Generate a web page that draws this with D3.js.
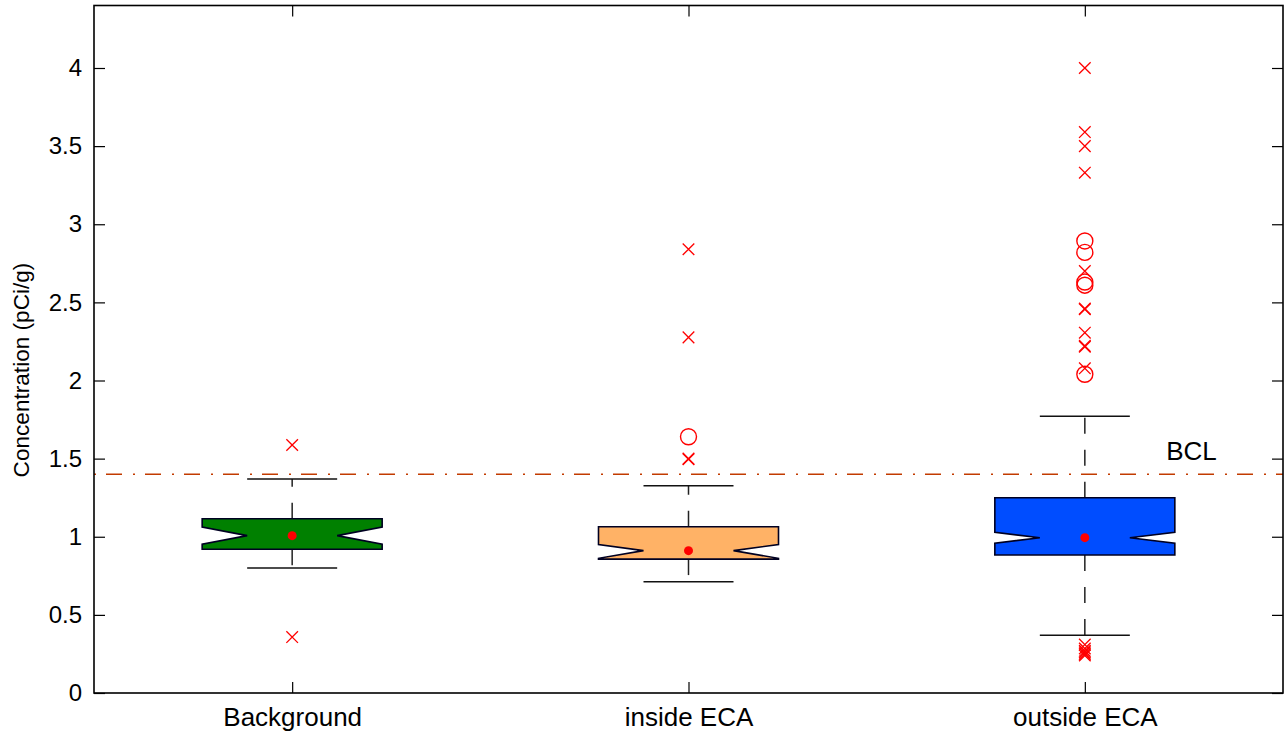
<!DOCTYPE html>
<html>
<head>
<meta charset="utf-8">
<script src="https://cdn.jsdelivr.net/npm/d3@7"></script>
<style>
  html, body { margin: 0; padding: 0; background: #fff; }
  svg { display: block; }
  text { font-family: "Liberation Sans", Arial, sans-serif; fill: #000; }
</style>
</head>
<body>
<svg id="chart" width="1286" height="736"></svg>
<script>
// ---------- data ----------
const categories = ["Background", "inside ECA", "outside ECA"];
const q1 = [0.92, 0.857, 0.883];
const q3 = [1.115, 1.064, 1.25];
const medians = [1.007, 0.911, 0.994];
const notchLo = [0.953, 0.862, 0.958];
const notchHi = [1.062, 0.95, 1.028];
const whiskerLo = [0.80, 0.712, 0.369];
const whiskerHi = [1.37, 1.327, 1.771];
const means = [1.007, 0.911, 0.994];
const outliersX = [
  [1.587, 0.358],
  [2.84, 2.276, 1.496, 1.50],
  [4.0, 3.59, 3.50, 3.33, 2.70, 2.456, 2.46, 2.306, 2.216, 2.222, 2.078,
   0.31, 0.285, 0.27, 0.26, 0.25, 0.24]
];
const outliersO = [
  [],
  [1.64],
  [2.893, 2.82, 2.63, 2.61, 2.04]
];
const bcl = 1.4;
const bclLabel = "BCL";
const yTicks = [0, 0.5, 1, 1.5, 2, 2.5, 3, 3.5, 4];
const yLabel = "Concentration (pCi/g)";
const fills = ["#008000", "#ffb266", "#004dff"];

// ---------- layout ----------
const svg = d3.select("#chart");
const pLeft = 94, pRight = 1283, pTop = 5.5, pBottom = 693;
const x = d3.scaleLinear().domain([0.5, 3.5]).range([pLeft, pRight]);
const y = d3.scaleLinear().domain([0, 4.4]).range([pBottom, pTop]);
const boxHalf = 90, notchDepth = 45, capHalf = 45, tickLen = 11;

const g = svg.append("g");

// BCL line
g.append("line")
  .attr("x1", pLeft).attr("x2", pRight)
  .attr("y1", y(bcl)).attr("y2", y(bcl))
  .attr("stroke", "#c23b00").attr("stroke-width", 1.5)
  .attr("stroke-dasharray", "2,10,16,11");
g.append("text")
  .attr("x", 1191.5).attr("y", y(bcl) - 14)
  .attr("text-anchor", "middle")
  .style("font-size", "26px")
  .text(bclLabel);

categories.forEach((c, i) => {
  const cx = x(i + 1);
  g.append("line")
    .attr("x1", cx).attr("x2", cx)
    .attr("y1", y(q3[i])).attr("y2", y(whiskerHi[i]))
    .attr("stroke", "#222").attr("stroke-width", 1.5)
    .attr("stroke-dasharray", "16,16");
  g.append("line")
    .attr("x1", cx).attr("x2", cx)
    .attr("y1", y(q1[i])).attr("y2", y(whiskerLo[i]))
    .attr("stroke", "#222").attr("stroke-width", 1.5)
    .attr("stroke-dasharray", "16,16");
  [whiskerHi[i], whiskerLo[i]].forEach(v => {
    g.append("line")
      .attr("x1", cx - capHalf).attr("x2", cx + capHalf)
      .attr("y1", y(v)).attr("y2", y(v))
      .attr("stroke", "#111").attr("stroke-width", 1.5);
  });
  const L = cx - boxHalf, R = cx + boxHalf;
  const pts = [
    [L, y(q1[i])], [L, y(notchLo[i])], [L + notchDepth, y(medians[i])],
    [L, y(notchHi[i])], [L, y(q3[i])], [R, y(q3[i])], [R, y(notchHi[i])],
    [R - notchDepth, y(medians[i])], [R, y(notchLo[i])], [R, y(q1[i])]
  ];
  g.append("path")
    .attr("d", d3.line()(pts) + "Z")
    .attr("fill", fills[i])
    .attr("stroke", "#000022").attr("stroke-width", 1.6)
    .attr("stroke-linejoin", "miter");
  g.append("circle")
    .attr("cx", cx).attr("cy", y(means[i])).attr("r", 4.5)
    .attr("fill", "#ff0000");
  outliersX[i].forEach(v => {
    const py = y(v), s = 5.8;
    g.append("path")
      .attr("d", `M${cx - s},${py - s}L${cx + s},${py + s}M${cx - s},${py + s}L${cx + s},${py - s}`)
      .attr("stroke", "#ff0000").attr("stroke-width", 1.3).attr("fill", "none");
  });
  outliersO[i].forEach(v => {
    g.append("circle")
      .attr("cx", cx).attr("cy", y(v)).attr("r", 8)
      .attr("fill", "none").attr("stroke", "#ff0000").attr("stroke-width", 1.4);
  });
});

// ---------- axes ----------
const axisL = d3.axisLeft(y).tickValues(yTicks).tickSizeInner(-tickLen).tickSizeOuter(0)
  .tickPadding(12).tickFormat(d3.format("~g"));
const ay = svg.append("g").attr("transform", `translate(${pLeft},0)`).call(axisL);
ay.select(".domain").remove();
ay.selectAll("line").attr("stroke", "#000").attr("stroke-width", 1.2);
ay.selectAll("text").style("font-size", "24px").attr("font-family", null);

const axisR = d3.axisRight(y).tickValues(yTicks).tickSizeInner(-tickLen).tickSizeOuter(0).tickFormat("");
const ar = svg.append("g").attr("transform", `translate(${pRight},0)`).call(axisR);
ar.select(".domain").remove();
ar.selectAll("line").attr("stroke", "#000").attr("stroke-width", 1.2);

const axisB = d3.axisBottom(x).tickValues([1, 2, 3]).tickSizeInner(-tickLen).tickSizeOuter(0)
  .tickPadding(15).tickFormat((d) => categories[d - 1]);
const ab = svg.append("g").attr("transform", `translate(0,${pBottom})`).call(axisB);
ab.select(".domain").remove();
ab.selectAll("line").attr("stroke", "#000").attr("stroke-width", 1.2);
ab.selectAll("text").style("font-size", "26px").attr("font-family", null);

const axisT = d3.axisTop(x).tickValues([1, 2, 3]).tickSizeInner(-tickLen).tickSizeOuter(0).tickFormat("");
const at = svg.append("g").attr("transform", `translate(0,${pTop})`).call(axisT);
at.select(".domain").remove();
at.selectAll("line").attr("stroke", "#000").attr("stroke-width", 1.2);

svg.append("rect")
  .attr("x", pLeft).attr("y", pTop)
  .attr("width", pRight - pLeft).attr("height", pBottom - pTop)
  .attr("fill", "none").attr("stroke", "#000").attr("stroke-width", 1.6);

svg.append("text")
  .attr("transform", `translate(28.5,370) rotate(-90)`)
  .attr("text-anchor", "middle")
  .style("font-size", "22.6px")
  .text(yLabel);
</script>
</body>
</html>
